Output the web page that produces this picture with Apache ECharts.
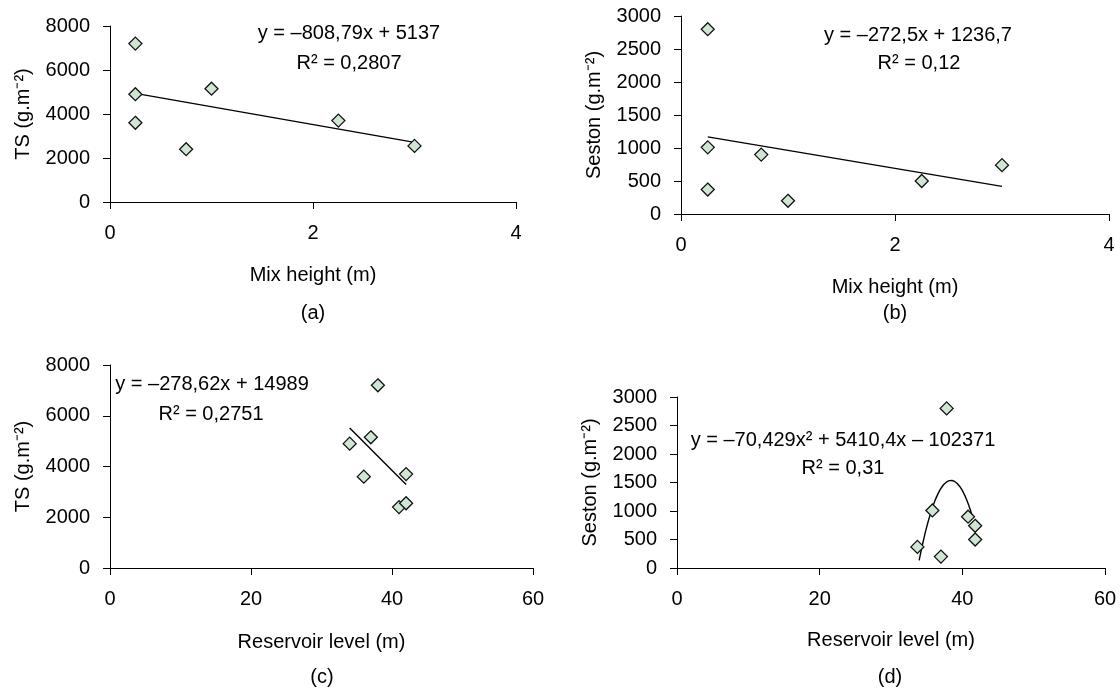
<!DOCTYPE html>
<html>
<head>
<meta charset="utf-8">
<script src="https://cdn.jsdelivr.net/npm/echarts@6/dist/echarts.min.js"></script>
<style>html,body{margin:0;padding:0;background:#fff}#c{width:1120px;height:693px}</style>
</head>
<body>
<div id="c"></div>
<script>
// ---- data ----
const mixHeightA = [0.25, 0.25, 0.25, 0.75, 1.0, 2.25, 3.0];
const tsA = [7200, 4900, 3600, 2400, 5150, 3700, 2550];
const mixHeightB = [0.25, 0.25, 0.25, 0.75, 1.0, 2.25, 3.0];
const sestonB = [2800, 1010, 370, 900, 200, 500, 740];
const levelC = [38, 34, 36, 41, 37, 42, 42];
const tsC = [7200, 4900, 3600, 2400, 5150, 3700, 2550];
const levelD = [37.8, 35.8, 33.7, 40.8, 37.0, 41.8, 41.8];
const sestonD = [2800, 1010, 370, 900, 200, 500, 740];

// trendline coefficients (highest power first) and x ranges, as printed
const fitA = [-808.79, 5137];      const fitRangeA = [0.25, 3.0];
const fitB = [-272.5, 1236.7];     const fitRangeB = [0.25, 3.0];
const fitC = [-278.62, 14989];     const fitRangeC = [34, 42];
const fitD = [-70.429, 5410.4, -102371]; const fitRangeD = [33.95, 41.4];

const eqTexts = ['y = –808,79x + 5137', 'y = –272,5x + 1236,7', 'y = –278,62x + 14989', 'y = –70,429x² + 5410,4x – 102371'];
const r2Texts = ['R² = 0,2807', 'R² = 0,12', 'R² = 0,2751', 'R² = 0,31'];
const xNames = ['Mix height (m)', 'Mix height (m)', 'Reservoir level (m)', 'Reservoir level (m)'];
const yNames = ['TS (g.m⁻²)', 'Seston (g.m⁻²)', 'TS (g.m⁻²)', 'Seston (g.m⁻²)'];
const captions = ['(a)', '(b)', '(c)', '(d)'];
const xTicks = [[0, 4, 2], [0, 4, 2], [0, 60, 20], [0, 60, 20]];
const yTicks = [[0, 8000, 2000], [0, 3000, 500], [0, 8000, 2000], [0, 3000, 500]];

// ---- helpers ----
function poly(c, x) { return c.reduce((acc, k) => acc * x + k, 0); }
function fitLine(c, r) {
  const n = c.length > 2 ? 60 : 1;
  const out = [];
  for (let i = 0; i <= n; i++) { const x = r[0] + (r[1] - r[0]) * i / n; out.push([x, poly(c, x)]); }
  return out;
}
function pairs(xs, ys) { return xs.map((x, i) => [x, ys[i]]); }

const FONT = '"Liberation Sans", Arial, sans-serif';
const FS = 20;

const grids = [
  { left: 110, top: 26, width: 406, height: 176 },
  { left: 681, top: 16, width: 428, height: 198 },
  { left: 110, top: 365, width: 423, height: 203 },
  { left: 677, top: 397, width: 428, height: 171 }
];
const nameGapX = [63, 63, 64, 62];
const nameGapY = [77, 77, 77, 77];

const axisCommon = {
  axisLine: { show: true, lineStyle: { color: '#000', width: 1 } },
  axisTick: { show: true, length: 7, lineStyle: { color: '#000', width: 1 } },
  splitLine: { show: false },
  nameTextStyle: { color: '#000', fontSize: FS, fontFamily: FONT }
};
const plain = v => String(v);

const xAxis = grids.map((g, i) => Object.assign({}, axisCommon, {
  type: 'value', gridIndex: i, min: xTicks[i][0], max: xTicks[i][1], interval: xTicks[i][2],
  name: xNames[i], nameLocation: 'middle', nameGap: nameGapX[i],
  axisLabel: { color: '#000', fontSize: FS, fontFamily: FONT, margin: 21, formatter: plain }
}));
const yAxis = grids.map((g, i) => Object.assign({}, axisCommon, {
  type: 'value', gridIndex: i, min: yTicks[i][0], max: yTicks[i][1], interval: yTicks[i][2],
  name: yNames[i], nameLocation: 'middle', nameGap: nameGapY[i], nameRotate: 90,
  axisLabel: { color: '#000', fontSize: FS, fontFamily: FONT, margin: 20, formatter: plain }
}));

const scatterData = [pairs(mixHeightA, tsA), pairs(mixHeightB, sestonB), pairs(levelC, tsC), pairs(levelD, sestonD)];
const fits = [fitLine(fitA, fitRangeA), fitLine(fitB, fitRangeB), fitLine(fitC, fitRangeC), fitLine(fitD, fitRangeD)];

const series = [];
for (let i = 0; i < 4; i++) {
  series.push({
    type: 'line', xAxisIndex: i, yAxisIndex: i, data: fits[i], showSymbol: false, smooth: false,
    lineStyle: { color: '#000', width: 1.4 }, silent: true, z: 2
  });
  series.push({
    type: 'scatter', xAxisIndex: i, yAxisIndex: i, data: scatterData[i], symbol: 'diamond', symbolSize: [13, 13],
    itemStyle: { color: '#cfe6d4', borderColor: '#111', borderWidth: 1.3, opacity: 1 }, z: 3
  });
}

// annotation text positions (px)
const eqPos = [[349, 33], [918, 35], [212, 384], [843, 440]];
const r2Pos = [[349, 63], [919, 63], [211, 414], [843, 468]];
const capPos = [[313, 313], [895, 313], [322, 677], [890, 677]];

const graphic = [];
function txt(t, p) {
  graphic.push({ type: 'text', x: p[0], y: p[1], style: { text: t, fill: '#000', font: FS + 'px ' + FONT, textAlign: 'center', textVerticalAlign: 'middle' } });
}
for (let i = 0; i < 4; i++) { txt(eqTexts[i], eqPos[i]); txt(r2Texts[i], r2Pos[i]); txt(captions[i], capPos[i]); }

const chart = echarts.init(document.getElementById('c'), null, { renderer: 'canvas' });
chart.setOption({ animation: false, backgroundColor: '#fff', grid: grids, xAxis, yAxis, series, graphic });
</script>
</body>
</html>
